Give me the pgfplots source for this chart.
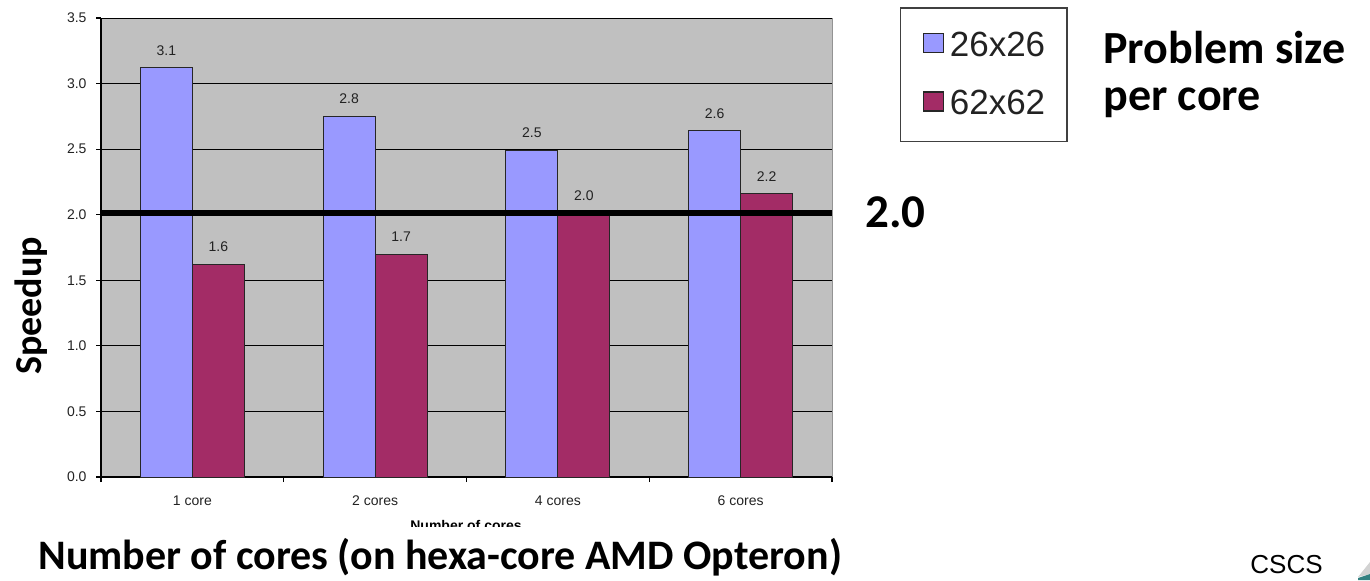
\documentclass[border=0pt]{standalone}
\usepackage{fontspec}
\usepackage{pgfplots}
\pgfplotsset{compat=1.18}
\newfontfamily\arial{Liberation Sans}
\newfontfamily\calibri{Carlito}
\definecolor{bgray}{HTML}{C0C0C0}
\definecolor{lav}{HTML}{9999FF}
\definecolor{plum}{HTML}{A32C66}
\definecolor{dtext}{HTML}{222222}
\begin{document}
\begin{tikzpicture}
\path[use as bounding box] (0,0) rectangle (685pt,-290pt);
\begin{axis}[
  at={(50.5pt,-238.5pt)}, anchor=south west,
  scale only axis, width=365.5pt, height=229.5pt,
  xmin=-0.5, xmax=3.5, ymin=0, ymax=3.5,
  axis background/.style={fill=bgray, draw=gray!85, line width=0.5pt},
  axis x line*=bottom, axis y line*=left,
  axis line style={black, line width=0.6pt, -},
  ytick={0,0.5,1,1.5,2,2.5,3,3.5},
  ymajorgrids, grid style={black, line width=0.5pt},
  tick align=outside, major tick length=2.5pt,
  tick style={black, line width=0.6pt},
  yticklabel style={/pgf/number format/fixed, /pgf/number format/fixed zerofill, /pgf/number format/precision=1, xshift=-1.2pt, text=dtext},
  /pgf/number format/assume math mode=true,
  tick label style={font=\arial\fontsize{7}{8.4}\selectfont},
  xtick={0,1,2,3},
  xticklabels={1 core, 2 cores, 4 cores, 6 cores},
  xticklabel style={yshift=-3.5pt, text=dtext},
  major x tick style={draw=none},
  extra x ticks={-0.5,0.5,1.5,2.5,3.5},
  extra x tick labels={},
  extra x tick style={major x tick style={draw=black, line width=0.6pt}, grid=none},
  clip=false,
  legend style={at={(1.093,1.024)}, anchor=north west, draw=black!75, line width=0.75pt, fill=white,
    font=\arial\fontsize{17.5}{21}\selectfont, text=dtext, inner xsep=9pt, inner ysep=10pt, row sep=11.5pt,
    /tikz/every odd column/.append style={column sep=1pt}},
  legend cell align=left,
  nodes near coords style={font=\arial\fontsize{7}{8.4}\selectfont, text=dtext, inner sep=0pt, anchor=south, yshift=6pt,
    /pgf/number format/fixed, /pgf/number format/fixed zerofill, /pgf/number format/precision=1},
]
\addplot[ybar, bar width=26pt, bar shift=-13pt, fill=lav, draw=black!85, line width=0.5pt, nodes near coords,
  every node near coord/.append style={xshift=-13pt},
  legend image code/.code={\path (0pt,0pt); \draw[fill=lav, draw=black!85, line width=0.6pt] (2pt,-3.5pt) rectangle (12pt,6pt);}]
  coordinates {(0,3.12) (1,2.75) (2,2.49) (3,2.64)};
\addlegendentry{26x26}
\addplot[ybar, bar width=26pt, bar shift=13pt, fill=plum, draw=black!85, line width=0.5pt, nodes near coords,
  every node near coord/.append style={xshift=13pt},
  legend image code/.code={\path (0pt,0pt); \draw[fill=plum, draw=black!85, line width=0.6pt] (2pt,-3.5pt) rectangle (12pt,6pt);}]
  coordinates {(0,1.62) (1,1.70) (2,2.01) (3,2.16)};
\addlegendentry{62x62}
\addplot[black, line width=3pt, forget plot, mark=none] coordinates {(-0.5,2.01) (3.5,2.01)};
\end{axis}
\begin{scope}[x=0.5pt, y=-0.5pt]
\node[anchor=base west, inner sep=0pt, font=\calibri\bfseries\fontsize{23}{28}\selectfont] at (1103,63) {Problem size};
\node[anchor=base west, inner sep=0pt, font=\calibri\bfseries\fontsize{23}{28}\selectfont] at (1103,110) {per core};
\node[anchor=base west, inner sep=0pt, font=\calibri\bfseries\fontsize{23.5}{28}\selectfont] at (865,227) {2.0};
\node[rotate=90, anchor=center, inner sep=0pt, font=\calibri\bfseries\fontsize{19}{23}\selectfont] at (31,306) {Speedup};
\node[anchor=base west, inner sep=0pt, font=\calibri\bfseries\fontsize{21}{25}\selectfont] at (38,569) {Number of cores (on hexa-core AMD Opteron)};
\begin{scope}
\clip (300,510) rectangle (650,526);
\node[anchor=base, inner sep=0pt, font=\arial\bfseries\fontsize{7}{8.4}\selectfont] at (466,530) {Number of cores};
\end{scope}
\node[anchor=base west, inner sep=0pt, font=\arial\fontsize{13}{16}\selectfont] at (1250,573) {CSCS};
\fill[gray!35] (1358,577) -- (1370,562) -- (1370,574) -- cycle;
\fill[teal!60!gray] (1358,578) -- (1370,574) -- (1370,580) -- (1358,580) -- cycle;
\end{scope}
\end{tikzpicture}
\end{document}
